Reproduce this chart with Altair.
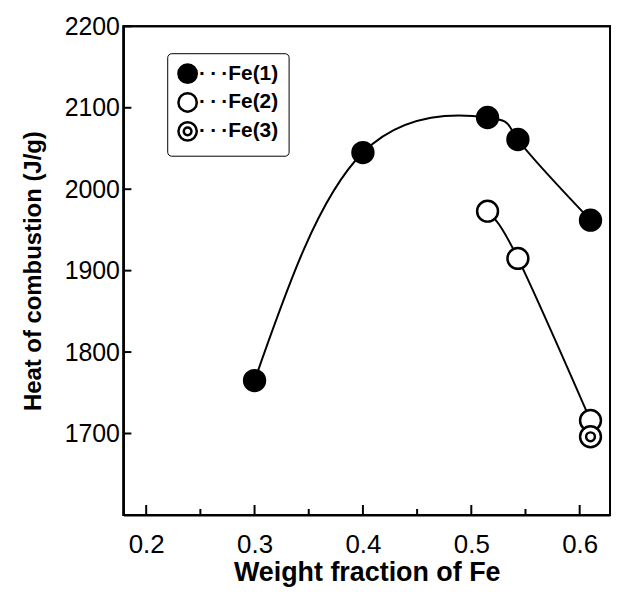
import altair as alt
import pandas as pd

# Data
fe1_x = [0.300, 0.400, 0.515, 0.543, 0.610]
fe1_y = [1765, 2045, 2088, 2061, 1962]
fe2_x = [0.515, 0.543, 0.610]
fe2_y = [1973, 1915, 1716]
fe3_x = [0.610]
fe3_y = [1696]

series_names = ["Fe(1)", "Fe(2)", "Fe(3)"]
x_ticks = [0.2, 0.3, 0.4, 0.5, 0.6]
x_minor = [0.25, 0.35, 0.45, 0.55]
y_ticks = [1700, 1800, 1900, 2000, 2100, 2200]
x_range = [0.179, 0.628]
y_range = [1600, 2200]

rows = []
for name, xs, ys in [("Fe(1)", fe1_x, fe1_y), ("Fe(2)", fe2_x, fe2_y), ("Fe(3)", fe3_x, fe3_y)]:
    for i, (a, b) in enumerate(zip(xs, ys)):
        rows.append({"series": name, "x": a, "y": b, "order": i})
df = pd.DataFrame(rows)

W, H = 489, 491
FONT = "Liberation Sans"

ring = ("M -1 0 A 1 1 0 1 0 1 0 A 1 1 0 1 0 -1 0 Z "
        "M -0.42 0 A 0.42 0.42 0 1 0 0.42 0 A 0.42 0.42 0 1 0 -0.42 0 Z")

xscale = alt.Scale(domain=x_range, nice=False, zero=False)
yscale = alt.Scale(domain=y_range, nice=False, zero=False)

xaxis = alt.Axis(values=x_ticks, format=".1f", ticks=False, grid=False,
                 labelFontSize=26, labelFont=FONT, labelColor="black", labelPadding=17,
                 title="Weight fraction of Fe", titleFontSize=27, titleFont=FONT,
                 titleFontWeight="bold", titleColor="black", titlePadding=2,
                 domainColor="black", domainWidth=2)
yaxis = alt.Axis(values=y_ticks, format="d", ticks=False, grid=False,
                 labelFontSize=25, labelFont=FONT, labelColor="black", labelPadding=4,
                 title="Heat of combustion (J/g)", titleFontSize=24, titleFont=FONT,
                 titleFontWeight="bold", titleColor="black", titlePadding=19,
                 domainColor="black", domainWidth=2)

lines = alt.Chart(df[df.series != "Fe(3)"]).mark_line(
    color="black", strokeWidth=2, interpolate="natural"
).encode(
    x=alt.X("x:Q", scale=xscale, axis=xaxis),
    y=alt.Y("y:Q", scale=yscale, axis=yaxis),
    detail="series:N",
    order="order:Q",
)

legend = alt.Legend(
    title=None, orient="none", legendX=44, legendY=27,
    strokeColor="black", cornerRadius=4, padding=10,
    labelExpr="'·\u2009·\u2009·' + datum.label",
    labelFont=FONT, labelFontSize=21, labelFontWeight="bold",
    labelColor="black", labelOffset=1,
    symbolSize=340, symbolStrokeWidth=2.5, symbolStrokeColor="black",
    rowPadding=0)

points = alt.Chart(df).mark_point(
    strokeWidth=2.5, opacity=1, fillOpacity=1, size=440
).encode(
    x=alt.X("x:Q", scale=xscale),
    y=alt.Y("y:Q", scale=yscale),
    fill=alt.Fill("series:N",
                  scale=alt.Scale(domain=series_names, range=["black", "white", "white"]),
                  legend=legend),
    stroke=alt.Stroke("series:N",
                      scale=alt.Scale(domain=series_names, range=["black", "black", "black"]),
                      legend=legend),
    shape=alt.Shape("series:N",
                    scale=alt.Scale(domain=series_names, range=["circle", "circle", ring]),
                    legend=legend),
)

ytick_df = pd.DataFrame({"v": y_ticks})
xtick_df = pd.DataFrame({"v": x_ticks})
xminor_df = pd.DataFrame({"v": x_minor})

yticks = alt.Chart(ytick_df).mark_rule(color="black", strokeWidth=2).encode(
    y=alt.Y("v:Q", scale=yscale), x=alt.value(0), x2=alt.value(8))
xticks = alt.Chart(xtick_df).mark_rule(color="black", strokeWidth=2).encode(
    x=alt.X("v:Q", scale=xscale), y=alt.value(H), y2=alt.value(H - 10))
xmin = alt.Chart(xminor_df).mark_rule(color="black", strokeWidth=2).encode(
    x=alt.X("v:Q", scale=xscale), y=alt.value(H), y2=alt.value(H - 6))

# plot frame, drawn from the scale extents
frame_df = pd.DataFrame({"x0": [x_range[0]], "x1": [x_range[1]],
                         "y0": [y_range[0]], "y1": [y_range[1]]})
frame = alt.Chart(frame_df).mark_rect(
    fill="transparent", stroke="black", strokeWidth=2
).encode(
    x=alt.X("x0:Q", scale=xscale), x2="x1:Q",
    y=alt.Y("y0:Q", scale=yscale), y2="y1:Q",
)

chart = alt.layer(lines, yticks, xticks, xmin, points, frame).properties(
    width=W, height=H,
    background="white",
    padding={"left": 13, "top": 5, "right": 2, "bottom": 2},
).configure_view(
    stroke="black", strokeWidth=2
)

chart.save("out.html", embed_options={"renderer": "svg", "actions": False})
